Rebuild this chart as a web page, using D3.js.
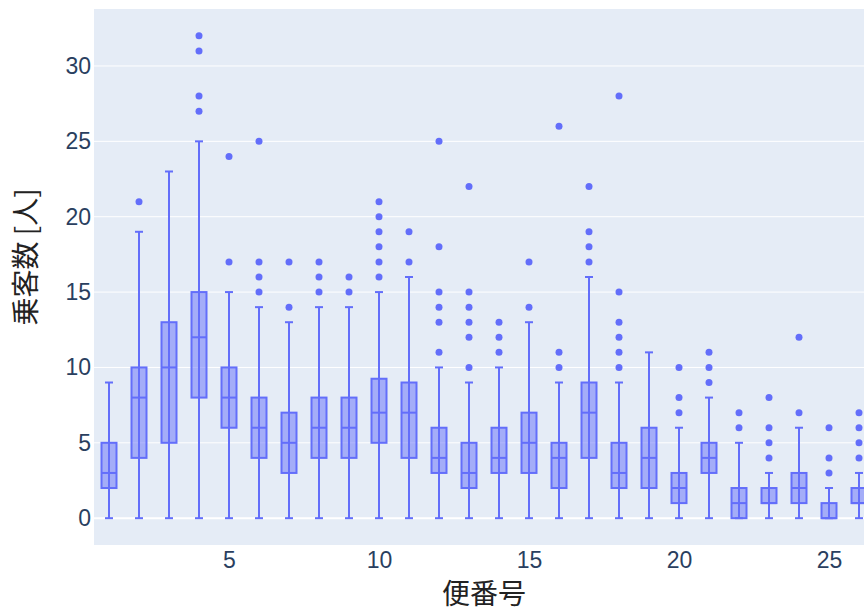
<!DOCTYPE html>
<html>
<head>
<meta charset="utf-8">
<script src="https://cdn.jsdelivr.net/npm/d3@7"></script>
<style>
    body { margin: 0; background: #fff; }
</style>
</head>
<body>
<svg id="chart" width="864" height="612"></svg>
<script>
    // 便番号ごとの乗客数 (箱ひげ図の統計量)
    var flights = [1, 2, 3, 4, 5, 6, 7, 8, 9, 10, 11, 12, 13, 14, 15, 16, 17, 18, 19, 20, 21, 22, 23, 24, 25, 26];
    var lowFence = [0, 0, 0, 0, 0, 0, 0, 0, 0, 0, 0, 0, 0, 0, 0, 0, 0, 0, 0, 0, 0, 0, 0, 0, 0, 0];
    var q1 = [2, 4, 5, 8, 6, 4, 3, 4, 4, 5, 4, 3, 2, 3, 3, 2, 4, 2, 2, 1, 3, 0, 1, 1, 0, 1];
    var medians = [3, 8, 10, 12, 8, 6, 5, 6, 6, 7, 7, 4, 3, 4, 5, 4, 7, 3, 4, 2, 4, 1, 1, 2, 0, 1];
    var q3 = [5, 10, 13, 15, 10, 8, 7, 8, 8, 9.25, 9, 6, 5, 6, 7, 5, 9, 5, 6, 3, 5, 2, 2, 3, 1, 2];
    var upFence = [9, 19, 23, 25, 15, 14, 13, 14, 14, 15, 16, 10, 9, 10, 13, 9, 16, 9, 11, 6, 8, 5, 3, 6, 2, 3];
    var outliers = [
        [],
        [21],
        [],
        [32, 31, 28, 27],
        [24, 17],
        [25, 17, 16, 15],
        [17, 14],
        [17, 16, 15],
        [16, 15],
        [21, 20, 19, 18, 17, 16],
        [19, 17],
        [25, 18, 15, 14, 13, 11],
        [22, 15, 14, 13, 12, 10],
        [13, 12, 11],
        [17, 14],
        [26, 11, 10],
        [22, 19, 18, 17],
        [28, 15, 13, 12, 11, 10],
        [],
        [10, 8, 7],
        [11, 10, 9],
        [7, 6],
        [8, 6, 5, 4],
        [12, 7],
        [6, 4, 3],
        [7, 6, 5, 4]
    ];
    var yTicks = [0, 5, 10, 15, 20, 25, 30];
    var xTicks = [5, 10, 15, 20, 25];

    var boxColor = "#636efa";
    var font = "'Liberation Sans', Arial, sans-serif";
    var cjkFont = "'Noto Sans CJK JP', 'Noto Sans', sans-serif";

    var plotL = 94, plotT = 9, plotR = 874, plotB = 545;
    var svg = d3.select("#chart");

    var x = d3.scaleLinear().domain([0.5, 26.5]).range([plotL, plotR]);
    var y = d3.scaleLinear().domain([-1.78, 33.78]).range([plotB, plotT]);

    svg.append("rect")
        .attr("x", plotL).attr("y", plotT)
        .attr("width", plotR - plotL).attr("height", plotB - plotT)
        .attr("fill", "#e5ecf6");

    // grid
    svg.append("g").selectAll("line")
        .data(yTicks)
        .enter()
        .append("line")
        .attr("x1", plotL).attr("x2", plotR)
        .attr("y1", function (d) { return y(d); })
        .attr("y2", function (d) { return y(d); })
        .attr("stroke", "#fff")
        .attr("stroke-width", function (d) { return d == 0 ? 2 : 1; });

    // axes (labels only, no domain lines)
    var yAxis = svg.append("g")
        .attr("transform", "translate(" + (plotL - 2) + ",0)")
        .call(d3.axisLeft(y).tickValues(yTicks).tickSize(0).tickPadding(1));
    yAxis.select(".domain").remove();
    yAxis.selectAll("text")
        .attr("font-family", font)
        .attr("font-size", "23px")
        .attr("fill", "#2a3f5f");

    var xAxis = svg.append("g")
        .attr("transform", "translate(0," + plotB + ")")
        .call(d3.axisBottom(x).tickValues(xTicks).tickSize(0).tickPadding(7));
    xAxis.select(".domain").remove();
    xAxis.selectAll("text")
        .attr("font-family", font)
        .attr("font-size", "23px")
        .attr("fill", "#2a3f5f");

    var hw = 7.5, cap = 4;
    var boxes = svg.append("g").selectAll("g")
        .data(flights)
        .enter()
        .append("g");

    // whiskers
    boxes.append("line")
        .attr("x1", function (d) { return x(d); })
        .attr("x2", function (d) { return x(d); })
        .attr("y1", function (d, i) { return y(lowFence[i]); })
        .attr("y2", function (d, i) { return y(upFence[i]); })
        .attr("stroke", boxColor).attr("stroke-width", 2);
    boxes.append("line")
        .attr("x1", function (d) { return x(d) - cap; })
        .attr("x2", function (d) { return x(d) + cap; })
        .attr("y1", function (d, i) { return y(upFence[i]); })
        .attr("y2", function (d, i) { return y(upFence[i]); })
        .attr("stroke", boxColor).attr("stroke-width", 2);
    boxes.append("line")
        .attr("x1", function (d) { return x(d) - cap; })
        .attr("x2", function (d) { return x(d) + cap; })
        .attr("y1", function (d, i) { return y(lowFence[i]); })
        .attr("y2", function (d, i) { return y(lowFence[i]); })
        .attr("stroke", boxColor).attr("stroke-width", 2);

    // box
    boxes.append("rect")
        .attr("x", function (d) { return x(d) - hw; })
        .attr("width", hw * 2)
        .attr("y", function (d, i) { return y(q3[i]); })
        .attr("height", function (d, i) { return y(q1[i]) - y(q3[i]); })
        .attr("fill", "rgba(99,110,250,0.5)")
        .attr("stroke", boxColor).attr("stroke-width", 2);
    boxes.append("line")
        .attr("x1", function (d) { return x(d) - hw; })
        .attr("x2", function (d) { return x(d) + hw; })
        .attr("y1", function (d, i) { return y(medians[i]); })
        .attr("y2", function (d, i) { return y(medians[i]); })
        .attr("stroke", boxColor).attr("stroke-width", 2);

    // outliers
    boxes.each(function (d, i) {
        d3.select(this).selectAll("circle")
            .data(outliers[i])
            .enter()
            .append("circle")
            .attr("cx", x(d))
            .attr("cy", function (v) { return y(v); })
            .attr("r", 3.5)
            .attr("fill", boxColor);
    });

    // titles
    svg.append("text")
        .attr("x", (plotL + plotR) / 2)
        .attr("y", 604)
        .attr("text-anchor", "middle")
        .attr("font-family", cjkFont)
        .attr("font-size", "28px")
        .attr("fill", "#222")
        .text("便番号");

    svg.append("text")
        .attr("transform", "translate(36," + ((plotT + plotB) / 2 - 20) + ") rotate(-90)")
        .attr("text-anchor", "middle")
        .attr("font-family", cjkFont)
        .attr("font-size", "28px")
        .attr("fill", "#222")
        .text("乗客数 [人]");
</script>
</body>
</html>
